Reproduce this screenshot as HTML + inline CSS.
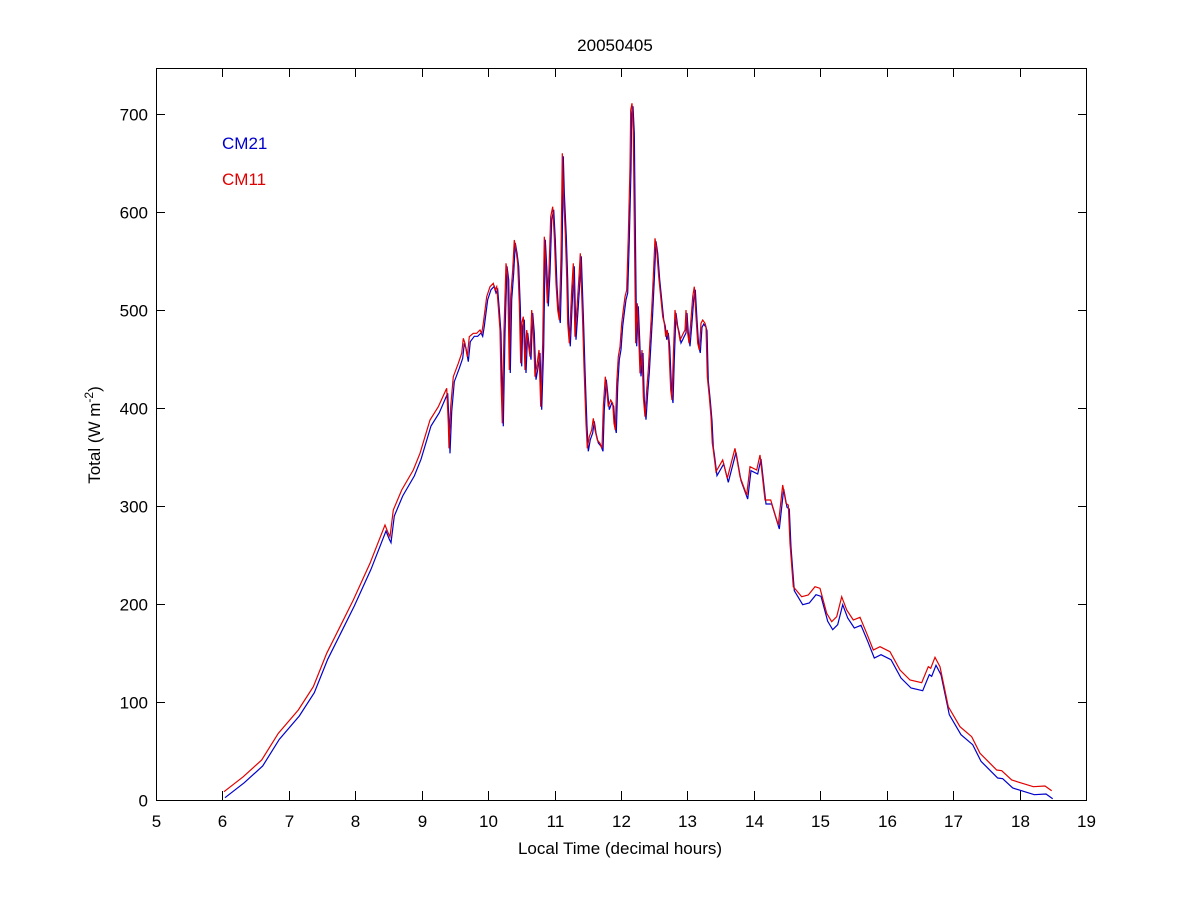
<!DOCTYPE html>
<html><head><meta charset="utf-8"><style>
html,body{margin:0;padding:0;background:#fff}
svg text{font-family:"Liberation Sans",Arial,sans-serif;font-size:17px;fill:#000}
</style></head><body>
<svg id="s" width="1200" height="900" xmlns="http://www.w3.org/2000/svg">
<rect x="0" y="0" width="1200" height="900" fill="#fff"/>
<g id="ticks" stroke="#000" stroke-width="1"></g>
<polyline id="blue" fill="none" stroke="#0000cc" stroke-width="1.2"/>
<polyline id="red" fill="none" stroke="#e00000" stroke-width="1.2"/>
<rect x="156.5" y="68.5" width="930" height="732" fill="none" stroke="#000" stroke-width="1"/>
<g id="labels"></g>
<text x="615" y="51" text-anchor="middle">20050405</text>
<text x="620" y="854" text-anchor="middle">Local Time (decimal hours)</text>
<text transform="translate(100,435) rotate(-90)" text-anchor="middle">Total (W m<tspan dy="-7" font-size="12">-2</tspan><tspan dy="7">)</tspan></text>
<text x="222" y="149" style="fill:#0000cc">CM21</text>
<text x="222" y="185" style="fill:#e00000">CM11</text>
</svg>
<script>
var NS="http://www.w3.org/2000/svg";
var tk=document.getElementById('ticks'),lb=document.getElementById('labels');
function ln(x1,y1,x2,y2){var l=document.createElementNS(NS,'line');l.setAttribute('x1',x1);l.setAttribute('y1',y1);l.setAttribute('x2',x2);l.setAttribute('y2',y2);tk.appendChild(l);}
function tx(x,y,s,a){var t=document.createElementNS(NS,'text');t.setAttribute('x',x);t.setAttribute('y',y);t.setAttribute('text-anchor',a);t.textContent=s;lb.appendChild(t);}
for(var h=5;h<=19;h++){var x=Math.round(156+(h-5)*66.43)+0.5;ln(x,800,x,791);ln(x,68,x,77);tx(x,827,h,'middle');}
for(var v=0;v<=700;v+=100){var y=Math.round(800-v*0.98)+0.5;ln(156,y,165,y);ln(1087,y,1078,y);tx(148,y+6,v,'end');}
var z4=[[72,1175],[130,1130],[185,1080],[235,1000],[295,930],[340,860],[380,760],[420,680],[460,600],[510,490],[555,375],[565,400],[570,410],[580,330],[605,270],[640,210],[660,160],[690,60],[715,20]];
var z1=[[125,1050],[140,1040],[150,1000],[165,960],[180,920],[190,900],[200,895],[205,1000],[207,1075],[212,950],[220,860],[235,820],[245,790],[250,745],[255,760],[262,800],[268,740],[280,730],[290,730],[300,720],[305,730],[310,700],[320,620],[330,590],[340,580],[345,600],[350,590],[355,650],[360,720],[363,870],[367,1000],[372,720],[378,520],[383,560],[388,840],[392,620],[398,540],[403,450],[408,480],[413,520],[418,640],[422,820],[425,700],[430,680],[435,840],[440,720],[445,760],[450,800],[455,660],[460,720],[465,860],[470,830],[477,780],[482,950],[488,760],[493,440],[497,520],[502,640],[507,540],[512,380],[518,350],[523,440],[528,580],[533,660],[538,690],[543,500],[547,190],[550,300],[556,430],[560,560],[563,700],[568,760],[575,600],[580,520],[585,740],[592,640],[597,560],[601,490],[608,700],[612,830],[618,1000],[622,1075],[628,1040],[635,1020],[640,985],[645,1020],[652,1050],[660,1060],[666,1075],[670,950],[676,860],[680,900],[685,950],[692,930],[698,940],[702,1000],[706,1020],[710,880],[715,800],[720,770],[725,700],[730,660],[735,620],[740,600],[745,440],[750,230],[752,60],[756,40],[760,120],[763,400],[767,760],[772,640],[776,740],[780,850],[786,780],[790,920],[795,980],[800,900],[805,840],[810,750],[815,660],[820,560],[825,445],[830,480],[836,560],[842,620],[848,680],[853,700],[857,740],[862,720],[866,760],[872,900],[876,930],[880,800],[885,660],[890,700],[895,720],[900,750],[905,740],[910,730],[915,720],[918,660],[922,720],[927,760],[932,700],[938,620],[943,590],[948,680],[953,760],[958,780],[963,700],[968,690],[975,700],[978,710],[982,860],[988,920],[993,980],[997,1060]];
var z3=[[30,0],[40,150],[48,215],[68,180],[82,235],[105,145],[120,230],[140,285],[150,200],[170,210],[180,165],[195,300],[212,300],[235,375],[248,255],[258,310],[265,315],[270,430],[280,560],[305,590],[325,585],[345,560],[360,565],[380,640],[395,665],[410,650],[425,590],[440,630],[460,660],[480,652],[500,700],[520,750],[540,740],[570,755],[600,810],[630,840],[665,848],[685,800],[692,805],[705,772],[720,800],[745,920],[780,980],[815,1010],[840,1060],[890,1110],[905,1112],[935,1140],[1000,1160],[1035,1158],[1055,1172]];
var pts=[];
z4.forEach(function(p){pts.push([200+p[0]/3,400+p[1]/3,6]);});
z1.forEach(function(p){var x=380+p[0]/3;if(x<=446)return;pts.push([x,90+p[1]/3,x<470?5:(x<700?3:4)]);});
z3.forEach(function(p){var x=700+p[0]/3;if(x<=713)return;pts.push([x,400+p[1]/3,x<795?4:8]);});
var r=[],b=[];
pts.forEach(function(p){r.push(p[0].toFixed(1)+','+p[1].toFixed(1));b.push((p[0]+1).toFixed(1)+','+Math.min(800,p[1]+p[2]).toFixed(1));});
document.getElementById('red').setAttribute('points',r.join(' '));
document.getElementById('blue').setAttribute('points',b.join(' '));
</script>
</body></html>
